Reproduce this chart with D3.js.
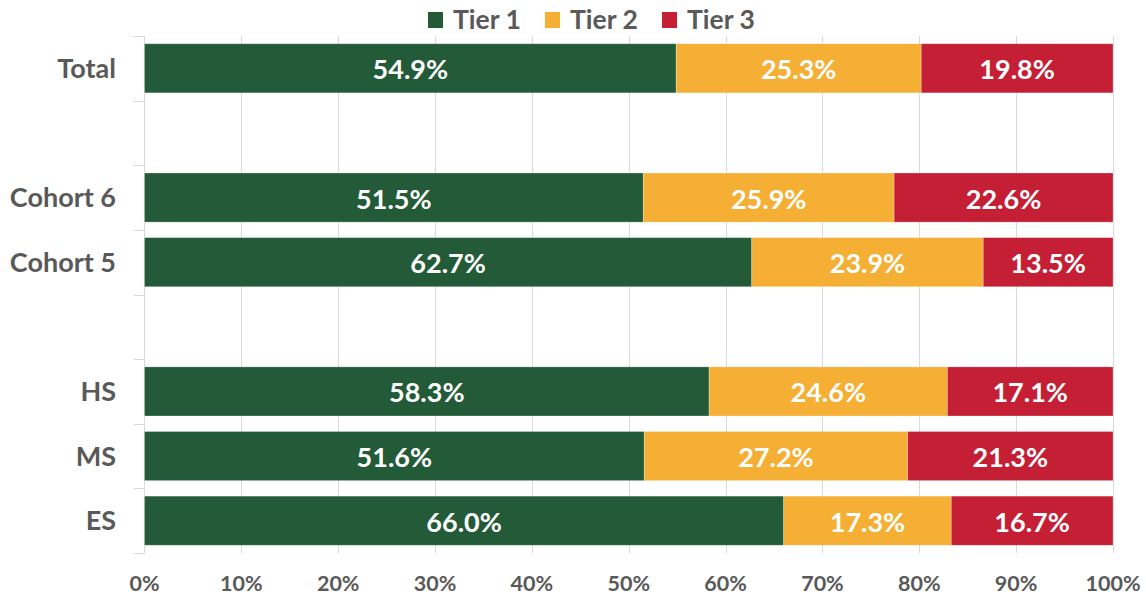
<!DOCTYPE html>
<html>
<head>
<meta charset="utf-8">
<script src="https://cdn.jsdelivr.net/npm/d3@7"></script>
<style>
  html, body { margin: 0; padding: 0; background: #fff; }
  svg { display: block; font-family: Lato, "Open Sans", sans-serif; font-weight: bold; }
</style>
</head>
<body>
<svg id="chart" width="1146" height="597"></svg>
<script>
// ---- data ----
const categories = ["Total", "", "Cohort 6", "Cohort 5", " ", "HS", "MS", "ES"];
const seriesNames = ["Tier 1", "Tier 2", "Tier 3"];
const tier1 = [54.9, null, 51.5, 62.7, null, 58.3, 51.6, 66.0];
const tier2 = [25.3, null, 25.9, 23.9, null, 24.6, 27.2, 17.3];
const tier3 = [19.8, null, 22.6, 13.5, null, 17.1, 21.3, 16.7];
const xTicks = [0, 10, 20, 30, 40, 50, 60, 70, 80, 90, 100];
const colors = ["#235B38", "#F4AF34", "#C41F35"];

(function () {
// ---- layout ----
const svg = d3.select("#chart");
const pLeft = 144.5, pRight = 1113, pTop = 36, pBottom = 553;
const textColor = "#595959", gridColor = "#d9d9d9";

const x = d3.scaleLinear().domain([0, 100]).range([pLeft, pRight]);
const y = d3.scaleBand().domain(categories).range([pTop, pBottom])
  .paddingInner(0.24).paddingOuter(0.12);

// gridlines
svg.append("g").selectAll("line").data(xTicks.slice(1)).join("line")
  .attr("x1", d => Math.round(x(d)) + 0.5).attr("x2", d => Math.round(x(d)) + 0.5)
  .attr("y1", pTop).attr("y2", pBottom)
  .attr("stroke", gridColor).attr("stroke-width", 1);

// y axis line and boundary ticks
const step = y.step();
const boundaries = d3.range(categories.length + 1).map(i => pTop + i * step);
svg.append("line").attr("x1", pLeft).attr("x2", pLeft).attr("y1", pTop).attr("y2", pBottom)
  .attr("stroke", gridColor);
svg.append("g").selectAll("line").data(boundaries).join("line")
  .attr("x1", pLeft - 11).attr("x2", pLeft)
  .attr("y1", d => Math.round(d) + 0.5).attr("y2", d => Math.round(d) + 0.5)
  .attr("stroke", gridColor);

// stacked data
const rows = categories.map((c, i) => ({ cat: c, vals: [tier1[i], tier2[i], tier3[i]] }))
  .filter(r => r.vals[0] != null);
const segs = [];
rows.forEach(r => {
  let acc = 0;
  r.vals.forEach((v, k) => {
    segs.push({ cat: r.cat, k, x0: acc, x1: acc + v, v });
    acc += v;
  });
});
segs.forEach(s => { if (s.k === 2) s.x1 = 100; });

svg.append("g").selectAll("rect").data(segs).join("rect")
  .attr("x", d => x(d.x0)).attr("width", d => x(d.x1) - x(d.x0))
  .attr("y", d => y(d.cat)).attr("height", y.bandwidth())
  .attr("fill", d => colors[d.k])
  .attr("stroke", "rgba(255,255,255,0.35)").attr("stroke-width", 0.75);

svg.append("g").selectAll("text").data(segs).join("text")
  .attr("x", d => (x(d.x0) + x(d.x1)) / 2)
  .attr("y", d => y(d.cat) + y.bandwidth() / 2)
  .attr("text-anchor", "middle").attr("dominant-baseline", "central")
  .attr("dy", "0.02em")
  .attr("fill", "#fff").attr("font-size", 27)
  .text(d => d.v.toFixed(1) + "%");

// category labels
svg.append("g").selectAll("text").data(categories.filter(c => c.trim() !== "")).join("text")
  .attr("x", 116).attr("y", d => y(d) + y.bandwidth() / 2)
  .attr("text-anchor", "end").attr("dominant-baseline", "central")
  .attr("dy", "-0.03em")
  .attr("fill", textColor).attr("font-size", 27)
  .text(d => d);

// x tick labels
svg.append("g").selectAll("text").data(xTicks).join("text")
  .attr("x", d => x(d)).attr("y", 591)
  .attr("text-anchor", "middle")
  .attr("fill", textColor).attr("font-size", 21.5)
  .text(d => d + "%");

// legend
const legendX = [428, 545, 662];
const lg = svg.append("g").selectAll("g").data(seriesNames).join("g")
  .attr("transform", (d, i) => `translate(${legendX[i]},0)`);
lg.append("rect").attr("x", 0).attr("y", 12).attr("width", 15).attr("height", 16)
  .attr("fill", (d, i) => colors[i]);
lg.append("text").attr("x", 25).attr("y", 29)
  .attr("fill", textColor).attr("font-size", 26.5).text(d => d);
})();
</script>
</body>
</html>
